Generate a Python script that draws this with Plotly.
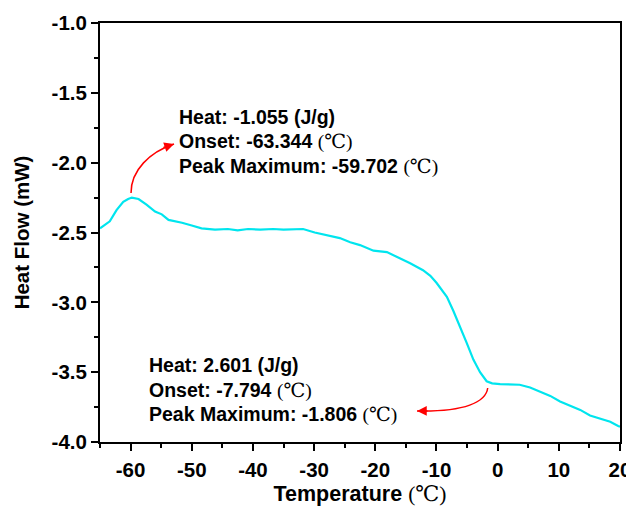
import plotly.graph_objects as go

# Temperature (°C) and heat flow (mW)
temperature = [-65.0, -64.3, -63.4, -62.3, -61.2, -60.4, -59.8, -58.7, -57.4, -56.0,
               -54.9, -53.8, -51.6, -50.0, -48.4, -46.2, -44.1, -42.5, -40.8, -38.8,
               -36.7, -35.0, -33.4, -31.8, -29.9, -27.9, -25.8, -24.1, -22.5, -20.3,
               -18.1, -16.0, -14.3, -12.2, -11.0, -10.0, -9.0, -8.3, -7.25, -6.15,
               -5.06, -3.97, -2.88, -1.8, -0.9, 0.4, 2.0, 3.6, 5.3, 6.9,
               8.6, 10.2, 11.8, 13.5, 15.1, 16.7, 18.4, 19.7, 20.0]
heat_flow = [-2.47, -2.45, -2.42, -2.34, -2.28, -2.26, -2.25, -2.26, -2.30, -2.35,
             -2.37, -2.41, -2.43, -2.45, -2.47, -2.48, -2.475, -2.485, -2.475, -2.48,
             -2.475, -2.48, -2.475, -2.475, -2.50, -2.52, -2.54, -2.57, -2.59, -2.63,
             -2.64, -2.685, -2.72, -2.77, -2.81, -2.86, -2.92, -2.96, -3.06, -3.17,
             -3.29, -3.41, -3.50, -3.565, -3.58, -3.585, -3.585, -3.59, -3.61, -3.64,
             -3.67, -3.71, -3.74, -3.77, -3.81, -3.83, -3.855, -3.885, -3.89]

x_ticks = [-60, -50, -40, -30, -20, -10, 0, 10, 20]
y_ticks = [-4.0, -3.5, -3.0, -2.5, -2.0, -1.5, -1.0]

deg = '<span style="font-family:Liberation Serif, DejaVu Serif, serif;font-weight:normal">(℃)</span>'
peak1_lines = ["Heat: -1.055 (J/g)", "Onset: -63.344 " + deg, "Peak Maximum: -59.702 " + deg]
peak2_lines = ["Heat: 2.601 (J/g)", "Onset: -7.794 " + deg, "Peak Maximum: -1.806 " + deg]

# text anchor positions (data coords)
peak1_x, peak1_y = -52.45, [-1.671, -1.850, -2.024]
peak2_x, peak2_y = -57.3, [-3.449, -3.628, -3.800]

# curved arrows (cubic bezier in data coords)
arrow1 = [(-59.93, -2.217), (-59.93, -2.0525), (-56.83, -1.9236), (-52.90, -1.8664)]
arrow2 = [(-1.625, -3.6134), (-1.904, -3.7136), (-5.336, -3.785), (-13.18, -3.778)]

SANS = "Liberation Sans, Arial, sans-serif"
fig = go.Figure()
fig.add_trace(go.Scatter(x=temperature, y=heat_flow, mode="lines",
                         line=dict(color="rgb(0,229,238)", width=2.2), showlegend=False))

for xs, ys, lines in [(peak1_x, peak1_y, peak1_lines), (peak2_x, peak2_y, peak2_lines)]:
    for yv, t in zip(ys, lines):
        fig.add_annotation(x=xs, y=yv, text=t, showarrow=False, xanchor="left", yanchor="middle",
                           font=dict(family=SANS, size=19.5, color="black", weight="bold"))

def bez(p):
    return "M {},{} C {},{} {},{} {},{}".format(*[c for pt in p for c in pt])

for arr, (ax, ay) in [(arrow1, (-12, 4)), (arrow2, (12, 0))]:
    fig.add_shape(type="path", path=bez(arr), xref="x", yref="y",
                  line=dict(color="red", width=1.5))
    fig.add_annotation(x=arr[3][0], y=arr[3][1], ax=ax, ay=ay, text="", showarrow=True,
                       arrowhead=2, arrowsize=1.3, arrowwidth=1.5, arrowcolor="red", standoff=0)

axis_common = dict(showline=True, linecolor="black", linewidth=2, mirror=True,
                   ticks="outside", ticklen=7, tickwidth=2, tickcolor="black",
                   showgrid=False, zeroline=False,
                   tickfont=dict(family=SANS, size=20.5, color="black", weight="bold"))

fig.update_xaxes(range=[-65, 20], tickvals=x_ticks, ticktext=[str(v) for v in x_ticks],
                 minor=dict(dtick=5, ticks="outside", ticklen=4, tickwidth=2, tickcolor="black"),
                 ticklabelstandoff=1,
                 title=dict(text="Temperature " + deg, standoff=6,
                            font=dict(family=SANS, size=21.5, color="black", weight="bold")),
                 **axis_common)
fig.update_yaxes(range=[-4, -1], tickvals=y_ticks, ticktext=["%.1f" % v for v in y_ticks],
                 minor=dict(dtick=0.25, ticks="outside", ticklen=4, tickwidth=2, tickcolor="black"),
                 title=dict(text="Heat Flow (mW)", standoff=16,
                            font=dict(family=SANS, size=20.5, color="black", weight="bold")),
                 **axis_common)

# the page body has an 8px margin, so the figure is sized to fit the 634x515 window
fig.update_layout(width=626, height=507, margin=dict(l=92, r=14, t=15, b=73, autoexpand=False),
                  plot_bgcolor="white", paper_bgcolor="white")
fig.write_html("out.html")
